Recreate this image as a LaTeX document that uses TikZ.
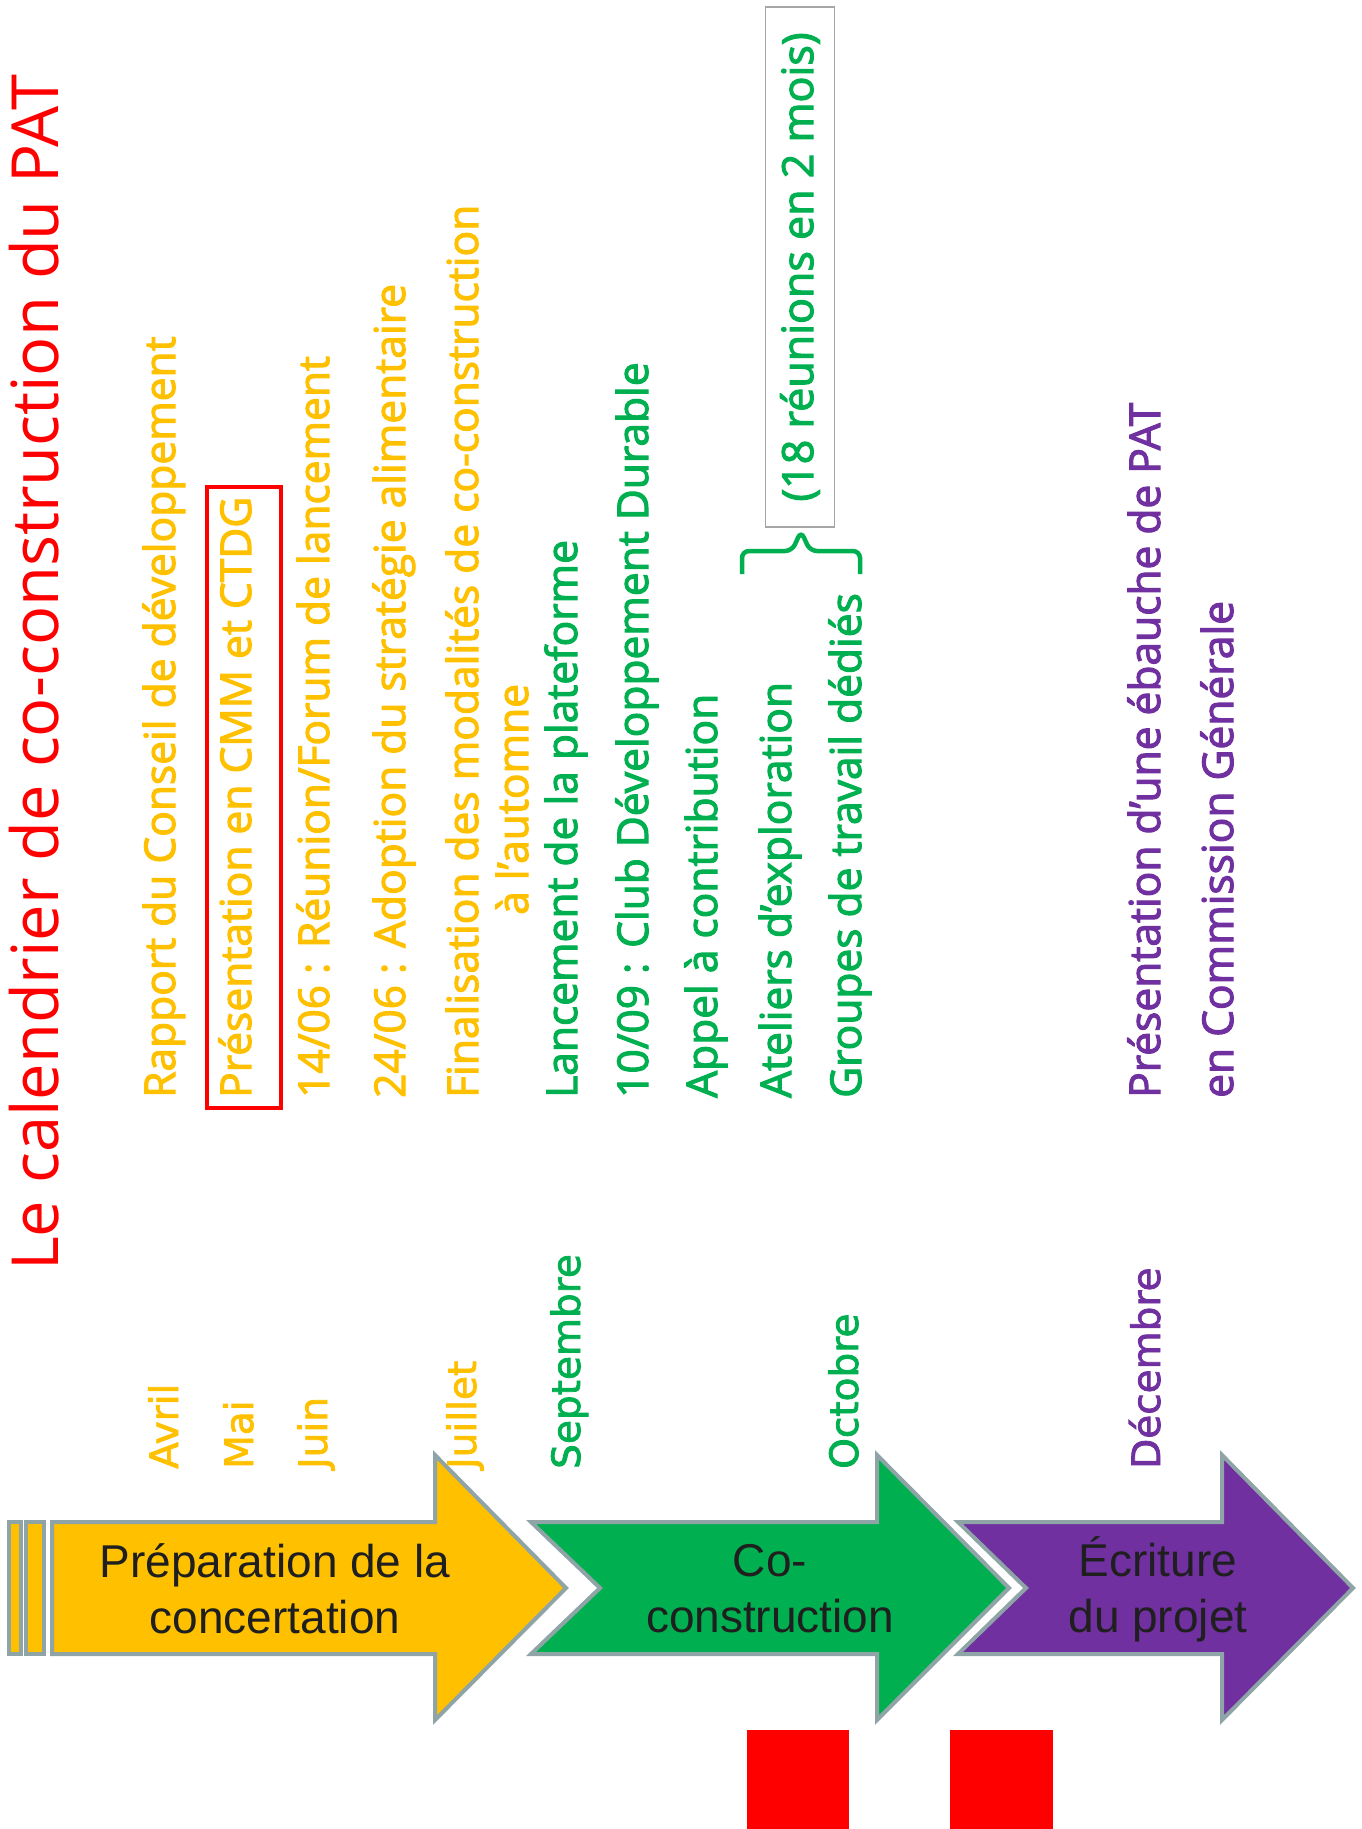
\documentclass[tikz,border=0pt]{standalone}
\usepackage{fontspec}
\setmainfont{Open Sans}[FakeBold=2.5]
\newfontfamily\titlefont{Open Sans}
\newfontfamily\monthfont{DejaVu Sans}[FakeBold=2]
\newfontfamily\phasefont{Liberation Sans}
\usepackage{tikz}
\usetikzlibrary{calc, positioning, fit}
\definecolor{prepYellow}{HTML}{FFC000}
\definecolor{coGreen}{HTML}{00B050}
\definecolor{writePurple}{HTML}{7030A0}
\definecolor{edgeGrey}{HTML}{8FA4A6}
\definecolor{alertRed}{HTML}{FF0000}
\definecolor{boxGrey}{HTML}{A6A6A6}
\tikzset{
  phase/.style  = {draw=edgeGrey, line width=4pt, line join=miter},
  evt/.style    = {rotate=90, anchor=base west, inner sep=0pt,
                   font=\fontsize{42.5}{48}\selectfont},
  month/.style  = {rotate=90, anchor=base west, inner sep=0pt,
                   font=\monthfont\fontsize{39}{44}\selectfont},
  plabel/.style = {align=center, text=black!88, font=\phasefont\fontsize{46}{56}\selectfont},
  yel/.style    = {text=prepYellow},
  grn/.style    = {text=coGreen},
  pur/.style    = {text=writePurple}
}

\begin{document}
\begin{tikzpicture}[x=1pt, y=-1pt]
  \useasboundingbox (0,0) rectangle (1362,1829);

  % --- title
  \node[evt, text=alertRed, font=\titlefont\fontsize{65}{70}\selectfont] (title) at (58,1271)
       {Le calendrier de co-construction du PAT};

  % --- phase arrows
  \fill[prepYellow, phase] (9,1522) rectangle (21,1654);
  \fill[prepYellow, phase] (26,1522) rectangle (44,1654);
  \fill[prepYellow, phase] (52,1522) -- (435,1522) -- (435,1455) -- (566,1588)
       -- (435,1720) -- (435,1654) -- (52,1654) -- cycle;
  \fill[coGreen, phase] (531,1522) -- (877,1522) -- (877,1455) -- (1009,1588)
       -- (877,1720) -- (877,1654) -- (531,1654) -- (600,1588) -- cycle;
  \fill[writePurple, phase] (958,1522) -- (1222,1522) -- (1222,1455) -- (1353,1588)
       -- (1222,1720) -- (1222,1654) -- (958,1654) -- (1026,1588) -- cycle;
  \node[plabel] (prep)   at (275,1589)  {Préparation de la\\concertation};
  \node[plabel] (cocons) at (770,1589)  {Co-\\construction};
  \node[plabel] (ecrit)  at (1158,1589) {Écriture\\du projet};

  % --- months
  \node[month, yel] (avril)   at (178,1469) {Avril};
  \node[month, yel] (mai)     at (253,1469) {Mai};
  \node[month, yel] (juin)    at (327,1469) {Juin};
  \node[month, yel] (juillet) at (476,1469) {Juillet};
  \node[month, grn] (sept)    at (580,1469) {Septembre};
  \node[month, grn] (oct)     at (858,1469) {Octobre};
  \node[month, pur] (dec)     at (1160,1469) {Décembre};

  % --- preparation events
  \node[evt, yel] (rapport)  at (175,1098) {Rapport du Conseil de développement};
  \node[evt, yel] (presCMM)  at (251,1098) {Présentation en CMM et CTDG};
  \node[evt, yel] (forum)    at (329,1098) {14/06 : Réunion/Forum de lancement};
  \node[evt, yel] (adoption) at (405,1098) {24/06 : Adoption du stratégie alimentaire};
  \node[evt, yel] (finalis)  at (478,1098) {Finalisation des modalités de co-construction};
  \node[evt, yel] (automne)  at (528,915)  {à l’automne};
  \node[draw=alertRed, line width=4pt, inner xsep=20pt, inner ysep=10pt, xshift=9pt,
        fit=(presCMM)] (cmmbox) {};

  % --- co-construction events
  \node[evt, grn] (lancement) at (577,1098) {Lancement de la plateforme};
  \node[evt, grn] (club)      at (648,1098) {10/09 : Club Développement Durable};
  \node[evt, grn] (appel)     at (717,1098) {Appel à contribution};
  \node[evt, grn] (ateliers)  at (791,1098) {Ateliers d’exploration};
  \node[evt, grn] (groupes)   at (861,1098) {Groupes de travail dédiés};
  \node[draw=boxGrey, line width=1.5pt, rotate=90, text=coGreen, minimum width=520pt,
        minimum height=69pt, font=\fontsize{43}{48}\selectfont] (reunions) at (800,267)
       {(18 réunions en 2 mois)};
  \coordinate (braceL) at (742,574);
  \coordinate (braceR) at (860,574);
  \coordinate (braceTip) at (801,531);
  \draw[coGreen, line width=4.5pt, rounded corners=7pt] (braceL) |- ($(braceTip)+(-9,20)$)
       -- (braceTip) -- ($(braceTip)+(9,20)$) -| (braceR);

  % --- writing events
  \node[evt, pur] (ebauche)    at (1160,1098) {Présentation d’une ébauche de PAT};
  \node[evt, pur] (commission) at (1233,1098) {en Commission Générale};

  % --- red markers
  \fill[alertRed] (747,1730) rectangle (849,1829);
  \fill[alertRed] (950,1730) rectangle (1053,1829);
\end{tikzpicture}
\end{document}
